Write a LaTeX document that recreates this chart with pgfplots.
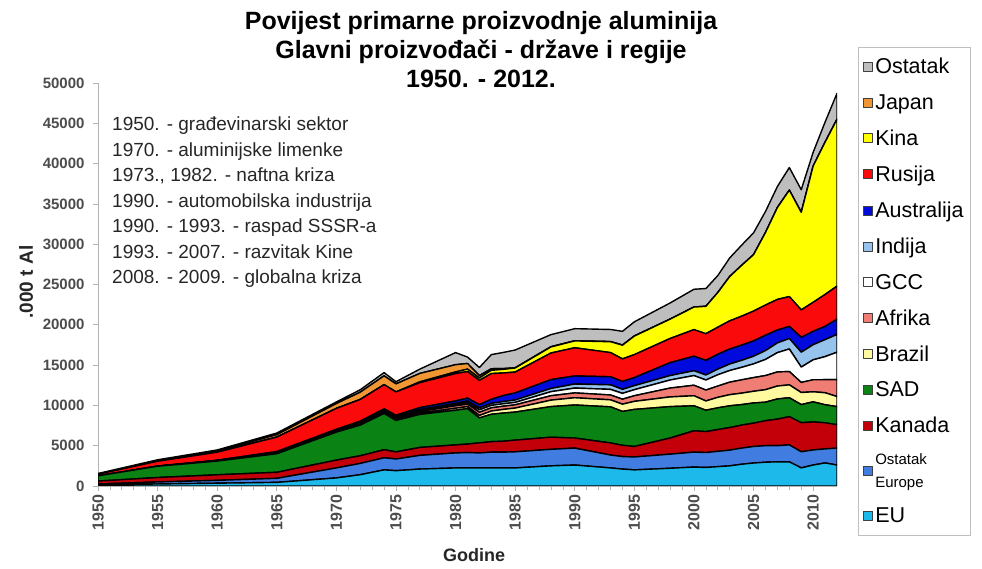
\documentclass[border=0pt]{standalone}
\usepackage{pgfplots}
\pgfplotsset{compat=1.18}
\usepackage{pgfplotstable}
\usepackage{fontspec}
\setmainfont{Liberation Sans}

\definecolor{cEU}{RGB}{30,185,235}
\definecolor{cOE}{RGB}{65,125,225}
\definecolor{cKAN}{RGB}{195,0,10}
\definecolor{cSAD}{RGB}{10,130,20}
\definecolor{cBRA}{RGB}{255,250,160}
\definecolor{cAFR}{RGB}{240,125,115}
\definecolor{cGCC}{RGB}{255,255,255}
\definecolor{cIND}{RGB}{150,195,235}
\definecolor{cAUS}{RGB}{0,10,220}
\definecolor{cRUS}{RGB}{250,10,10}
\definecolor{cKIN}{RGB}{255,255,0}
\definecolor{cJAP}{RGB}{240,150,50}
\definecolor{cOST}{RGB}{190,190,190}

% primarna proizvodnja, .000 t
\pgfplotstableread{
year EU   OE   KAN  SAD  BRA  AFR  GCC  IND  AUS  RUS  KIN   JAP  OST
1950 150  100  360  650  0    0    0    0    0    200  0     30   60
1955 250  250  550  1400 0    0    0    10   10   600  0     60   120
1960 350  350  690  1700 20   50   0    20   10   1000 0     130  150
1965 450  500  750  2300 30   100  0    60   80   1800 0     300  200
1970 1000 1240 970  3470 50   100  0    100  100  2600 0     600  200
1972 1400 1400 950  3800 80   120  20   120  150  2700 0     900  300
1974 2000 1500 1000 4500 100  100  50   120  200  3000 0     1100 400
1975 1900 1450 880  3900 120  120  50   130  220  2900 0     1000 270
1977 2100 1700 980  4100 150  200  100  140  250  3100 100   1050 530
1980 2240 1860 1000 4300 250  300  150  150  300  3400 200   900  1500
1981 2250 1900 1050 4400 250  300  200  200  350  3300 300   700  800
1982 2240 1860 1250 3100 300  400  300  250  400  3000 300   300  1000
1983 2250 1950 1300 3400 400  400  300  250  500  3200 400   200  1750
1984 2250 1950 1350 3500 450  400  300  270  750  2800 450   100  2000
1985 2240 2000 1450 3480 500  400  300  300  870  2600 500   30   2200
1988 2500 2050 1500 3800 800  550  500  400  1100 3300 750   30   1500
1990 2600 2100 1250 4100 900  600  600  500  1000 3500 850   20   1500
1993 2240 1600 1500 4480 870  600  700  560  1000 3000 1350  20   1500
1994 2100 1550 1400 4200 900  620  720  500  980  2800 1700  20   1700
1995 2000 1600 1300 4600 1000 700  750  500  1000 2850 2300  20   1750
1998 2200 1750 2000 3900 1200 1100 1000 550  1600 3000 2400  10   2000
2000 2350 1850 2650 3100 1250 1300 1200 600  1800 3300 2800  10   2200
2001 2300 1850 2600 2650 1150 1350 1250 620  1820 3300 3400  10   2200
2002 2400 1900 2700 2700 1300 1400 1400 700  1850 3350 4300  10   2100
2003 2500 1950 2800 2700 1380 1550 1450 800  1860 3500 5500  10   2300
2004 2700 2000 2850 2550 1420 1650 1550 870  1880 3600 6300  10   2500
2005 2850 2050 2900 2500 1450 1700 1700 950  1900 3700 7000  10   2700
2006 2950 2050 3100 2300 1550 1750 2000 1100 1900 3750 9000  10   2600
2007 3000 2000 3300 2500 1600 1750 2400 1200 1600 3800 11400 10   2600
2008 3000 2100 3500 2350 1600 1650 2800 1300 1500 3700 13200 10   2800
2009 2250 2000 3600 2250 1500 1250 1900 1850 1850 3400 12100 10   2800
2010 2600 1870 3480 2490 1250 1490 2480 1870 1660 3600 16900 10   1700
2011 2860 1740 3240 2240 1490 1620 2860 2110 1640 3960 18900 10   2480
2012 2600 2100 2900 2250 1250 2100 3400 2200 1900 4100 20700 10   3200
}\proizvodnja

\begin{document}
\begin{tikzpicture}
\useasboundingbox (-98pt,-83pt) rectangle (884pt,486pt);
\begin{axis}[
  at={(0pt,0pt)}, anchor=south west,
  width=739pt, height=403pt, scale only axis,
  xmin=1950, xmax=2012, ymin=0, ymax=50000,
  stack plots=y,
  axis lines*=left,
  axis line style={gray!60, line width=0.7pt},
  tick align=outside,
  tick style={gray!60, line width=0.7pt},
  major tick length=5pt, minor tick length=4pt,
  xtick={1950,1955,...,2010}, minor x tick num=4,
  ytick={0,5000,...,50000},
  scaled ticks=false,
  /pgf/number format/set thousands separator={},
  /pgf/number format/assume math mode=true,
  yticklabel style={font=\bfseries\fontsize{15}{15}\selectfont, text=black!70, xshift=-5pt},
  xticklabel style={font=\bfseries\fontsize{16}{16}\selectfont, text=black!70, rotate=90, anchor=east},
  every axis plot/.append style={draw=black, line width=1.4pt, line join=round},
  legend image code/.code={\draw[#1, draw=black!75, line width=0.9pt] (0pt,-4.5pt) rectangle (9pt,4.5pt);},
  reverse legend,
  legend cell align=left,
  legend style={at={(axis description cs:1.0284,1.0893)}, anchor=north west,
    draw=gray!50, line width=0.8pt, font=\fontsize{21.5}{23}\selectfont,
    row sep=15pt, inner xsep=5pt, inner ysep=9pt,
    cells={align=left}},
]
\addplot[fill=cEU]  table[x=year,y=EU]  {\proizvodnja} \closedcycle;
\addlegendentry{EU}
\addplot[fill=cOE]  table[x=year,y=OE]  {\proizvodnja} \closedcycle;
\addlegendentry{\fontsize{15}{16}\selectfont Ostatak\\\fontsize{15}{16}\selectfont Europe}
\addplot[fill=cKAN] table[x=year,y=KAN] {\proizvodnja} \closedcycle;
\addlegendentry{Kanada}
\addplot[fill=cSAD] table[x=year,y=SAD] {\proizvodnja} \closedcycle;
\addlegendentry{SAD}
\addplot[fill=cBRA] table[x=year,y=BRA] {\proizvodnja} \closedcycle;
\addlegendentry{Brazil}
\addplot[fill=cAFR] table[x=year,y=AFR] {\proizvodnja} \closedcycle;
\addlegendentry{Afrika}
\addplot[fill=cGCC] table[x=year,y=GCC] {\proizvodnja} \closedcycle;
\addlegendentry{GCC}
\addplot[fill=cIND] table[x=year,y=IND] {\proizvodnja} \closedcycle;
\addlegendentry{Indija}
\addplot[fill=cAUS] table[x=year,y=AUS] {\proizvodnja} \closedcycle;
\addlegendentry{Australija}
\addplot[fill=cRUS] table[x=year,y=RUS] {\proizvodnja} \closedcycle;
\addlegendentry{Rusija}
\addplot[fill=cKIN] table[x=year,y=KIN] {\proizvodnja} \closedcycle;
\addlegendentry{Kina}
\addplot[fill=cJAP] table[x=year,y=JAP] {\proizvodnja} \closedcycle;
\addlegendentry{Japan}
\addplot[fill=cOST] table[x=year,y=OST] {\proizvodnja} \closedcycle;
\addlegendentry{Ostatak}
\end{axis}

\node[anchor=north, align=center, inner sep=0pt,
  font=\bfseries\fontsize{25}{29}\selectfont] at (383pt,475pt)
  {Povijest primarne proizvodnje aluminija\\Glavni proizvođači - države i regije\\1950. - 2012.};

\node[anchor=north west, align=left, inner sep=0pt, text=black!85,
  font=\fontsize{19}{25.5}\selectfont] at (14pt,369pt)
  {1950. - građevinarski sektor\\
   1970. - aluminijske limenke\\
   1973., 1982. - naftna kriza\\
   1990. - automobilska industrija\\
   1990. - 1993. - raspad SSSR-a\\
   1993. - 2007. - razvitak Kine\\
   2008. - 2009. - globalna kriza};

\node[font=\bfseries\fontsize{18}{18}\selectfont, text=black!85] at (376pt,-69pt) {Godine};
\node[rotate=90, font=\bfseries\fontsize{19}{19}\selectfont, text=black!85] at (-72pt,204pt) {.000 t Al};
\end{tikzpicture}
\end{document}
